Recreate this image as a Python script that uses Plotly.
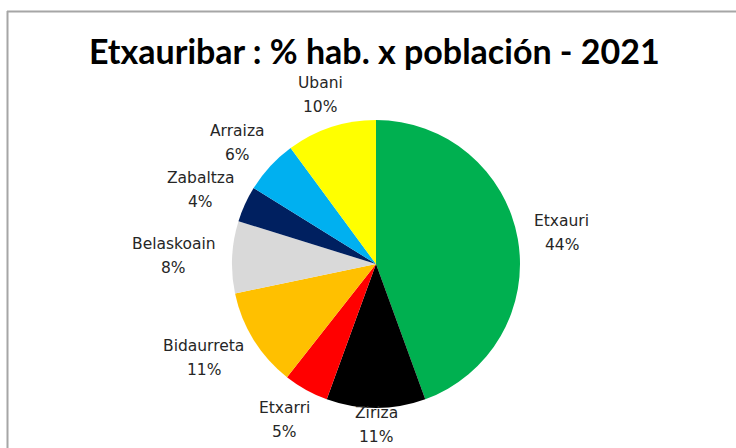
import math
import plotly.graph_objects as go

# Data
labels = ["Etxauri", "Ziriza", "Etxarri", "Bidaurreta", "Belaskoain", "Zabaltza", "Arraiza", "Ubani"]
values = [44, 11, 5, 11, 8, 4, 6, 10]
colors = ["#00B050", "#000000", "#FF0000", "#FFC000", "#D9D9D9", "#002060", "#00B0F0", "#FFFF00"]
title_text = "Etxauribar : % hab. x población - 2021"

W, H = 736, 448
cx, cy, R = 376, 264, 144  # pixel geometry of pie (from top-left)

fig = go.Figure()
fig.add_trace(go.Pie(
    labels=labels, values=values, sort=False, direction="clockwise", rotation=0,
    marker=dict(colors=colors, line=dict(width=0)),
    textinfo="none", hoverinfo="label+value", showlegend=False,
    domain=dict(x=[(cx - R) / W, (cx + R) / W], y=[1 - (cy + R) / H, 1 - (cy - R) / H]),
))

# Labels placed outside each slice, computed from the slice angles
total = sum(values)
cum = 0
annotations = []
gap = 12
font_px = 15.5
line_gap = 24
lab_font = dict(family="DejaVu Sans", size=font_px, color="#262626")
for lab, v in zip(labels, values):
    mid = (cum + v / 2) / total * 2 * math.pi
    cum += v
    ux, uy = math.sin(mid), -math.cos(mid)
    tw = max(len(lab), 4) * 9.3
    th = 44
    px = cx + (R + gap) * ux + tw / 2 * ux
    py = cy + (R + gap) * uy + th / 2 * uy
    py = min(py, 425)
    for txt, dy in ((lab, -line_gap / 2), (f"{v}%", line_gap / 2)):
        annotations.append(dict(
            x=px / W, y=1 - (py + dy) / H, xref="paper", yref="paper",
            text=txt, showarrow=False, xanchor="center", yanchor="middle",
            font=lab_font,
        ))

annotations.append(dict(
    x=374 / W, y=1 - 50 / H, xref="paper", yref="paper", text=f"<b>{title_text}</b>",
    showarrow=False, xanchor="center", yanchor="middle",
    font=dict(family="Lato", size=34, color="#000000"),
))

fig.update_layout(
    width=W, height=H, margin=dict(l=0, r=0, t=0, b=0),
    paper_bgcolor="white", plot_bgcolor="white",
    annotations=annotations,
    shapes=[
        dict(type="line", xref="paper", yref="paper", x0=7 / W, x1=1, y0=1 - 11.5 / H, y1=1 - 11.5 / H,
             line=dict(color="#A6A6A6", width=2)),
        dict(type="line", xref="paper", yref="paper", x0=7.5 / W, x1=7.5 / W, y0=0, y1=1 - 11 / H,
             line=dict(color="#A6A6A6", width=2)),
    ],
)
fig.write_html("out.html", config={"displayModeBar": False},
               post_script="document.body.style.margin='0';document.body.style.overflow='hidden';")
